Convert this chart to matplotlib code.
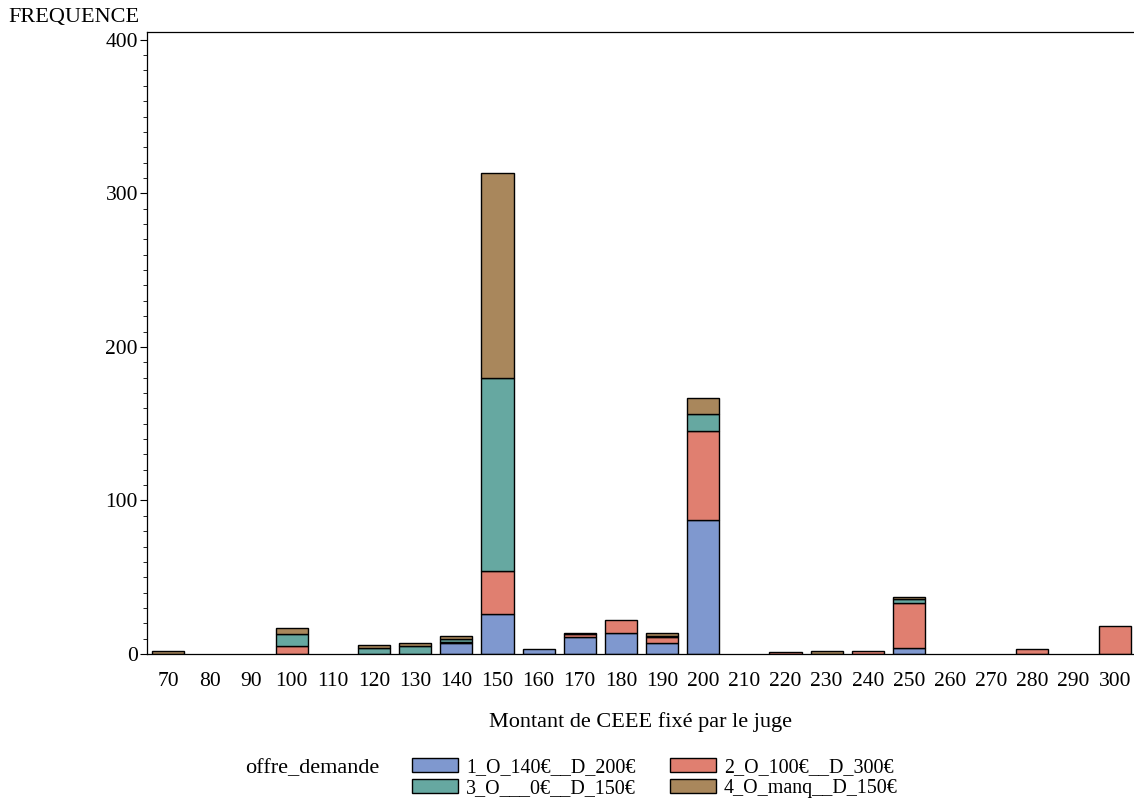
import matplotlib.pyplot as plt
import numpy as np
from matplotlib.patches import Patch
from matplotlib.ticker import MultipleLocator

plt.rcParams['font.family'] = ['Liberation Serif', 'DejaVu Serif']

# Montant de CEEE (categories on x)
montants = [70, 80, 90, 100, 110, 120, 130, 140, 150, 160, 170, 180,
            190, 200, 210, 220, 230, 240, 250, 260, 270, 280, 290, 300]

# counts per offre_demande group
g1 = [0, 0, 0, 0, 0, 0, 0, 7, 26, 3, 11, 14, 7, 87, 0, 0, 0, 0, 4, 0, 0, 0, 0, 0]
g2 = [0, 0, 0, 5, 0, 0, 0, 1, 28, 0, 2, 8, 4, 58, 0, 1, 0, 2, 29, 0, 0, 3, 0, 18]
g3 = [0, 0, 0, 8, 0, 4, 5, 2, 126, 0, 0, 0, 1, 11, 0, 0, 0, 0, 3, 0, 0, 0, 0, 0]
g4 = [2, 0, 0, 4, 0, 2, 2, 2, 133, 0, 1, 0, 2, 11, 0, 0, 2, 0, 1, 0, 0, 0, 0, 0]

labels = ['1_O_140€__D_200€', '2_O_100€__D_300€',
          '3_O___0€__D_150€', '4_O_manq__D_150€']
colors = ['#7F98CF', '#E07F70', '#66A8A1', '#A9875C']

fig = plt.figure(figsize=(11.34, 8.01), dpi=100)
ax = fig.add_axes([0.1296, 0.1835, 0.8704, 0.7765])

x = np.arange(len(montants))
bottom = np.zeros(len(montants))
for vals, col in zip([g1, g2, g3, g4], colors):
    vals = np.array(vals)
    nz = vals > 0
    ax.bar(x[nz], vals[nz], width=0.78, bottom=bottom[nz], color=col,
           edgecolor='black', linewidth=1)
    bottom += vals

ax.set_xlim(-0.52, 23.47)
ax.set_ylim(0, 405)
ax.yaxis.set_major_locator(MultipleLocator(100))
ax.yaxis.set_minor_locator(MultipleLocator(10))
ax.set_xticks(x)
ax.set_xticklabels([str(m) for m in montants])
ax.tick_params(axis='x', length=0, pad=13, labelsize=15.5)
ax.tick_params(axis='y', which='major', length=5, labelsize=15.5, pad=1.5)
ax.tick_params(axis='y', which='minor', length=3)
for s in ['left', 'bottom', 'top']:
    ax.spines[s].set_linewidth(0.9)
ax.spines['right'].set_visible(False)

ax.set_xlabel('Montant de CEEE fixé par le juge', fontsize=16, labelpad=15)
fig.text(0.007, 0.978, 'FREQUENCE', fontsize=16, ha='left', va='center')

handles = [Patch(facecolor=c, edgecolor='black', linewidth=1) for c in colors]
order = [0, 2, 1, 3]
fig.legend([handles[i] for i in order], [labels[i] for i in order],
           ncol=2, loc='center left', bbox_to_anchor=(0.3545, 0.0285),
           frameon=False, fontsize=14.4, handlelength=2.3, handleheight=0.68,
           handletextpad=0.4, columnspacing=1.7, labelspacing=0.08,
           borderpad=0)
fig.text(0.216, 0.041, 'offre_demande', fontsize=16, ha='left', va='center')

fig.savefig('out.png', dpi=100)
